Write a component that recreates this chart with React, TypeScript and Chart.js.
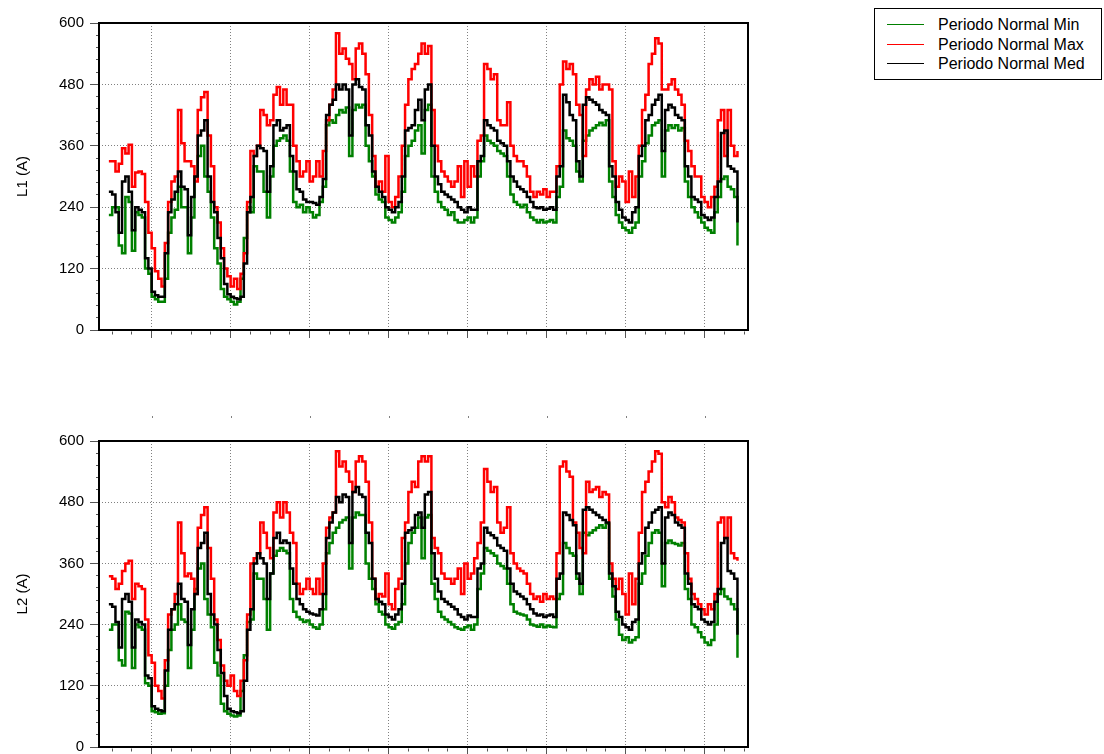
import React, { useEffect, useRef } from 'react';
import { Chart, registerables } from 'chart.js';

Chart.register(...registerables);
Chart.defaults.font.family = '"Liberation Sans", Arial, sans-serif';

// hours from the left edge of the time axis (08:00 of day 0); data starts at hour 3
const START_HOUR = 3;
const X_MIN = 0;
const X_MAX = 197.2;
const X_TICKS = [4, 10, 16, 22, 28, 34, 40, 46, 52, 58, 64, 70, 76, 82, 88, 94, 100, 106, 112, 118, 124, 130, 136, 142, 148, 154, 160, 166, 172, 178, 184, 190, 196];
const X_MAJOR = [16, 40, 64, 88, 112, 136, 160, 184];
const Y_TICKS = [0, 24, 48, 72, 96, 120, 144, 168, 192, 216, 240, 264, 288, 312, 336, 360, 384, 408, 432, 456, 480, 504, 528, 552, 576, 600];
const Y_LABELED = [0, 120, 240, 360, 480, 600];

const SERIES_NAMES = ['Periodo Normal Min', 'Periodo Normal Max', 'Periodo Normal Med'];
const SERIES_COLORS = ['#008000', '#ff0000', '#000000'];

const L1_MAX = [
  330, 330, 310, 325, 355, 345, 362, 280, 308, 310, 305, 250,
  190, 160, 115, 100, 85, 170, 250, 290, 300, 430, 365, 330,
  330, 320, 290, 430, 455, 465, 380, 320, 240, 210, 160, 120,
  105, 85, 100, 80, 110, 150, 250, 350, 340, 360, 430, 420,
  400, 410, 460, 475, 440, 470, 440, 440, 360, 330, 300, 310,
  330, 290, 300, 330, 300, 350, 410, 440, 470, 580, 540, 550,
  530, 520, 490, 550, 560, 540, 500, 420, 340, 280, 290, 270,
  340, 250, 240, 260, 300, 360, 440, 490, 510, 520, 540, 560,
  540, 555, 430, 360, 330, 310, 300, 290, 280, 290, 320, 260,
  330, 280, 320, 300, 370, 380, 520, 510, 490, 500, 410, 400,
  400, 445, 360, 340, 330, 330, 320, 300, 270, 260, 270, 265,
  275, 260, 270, 270, 320, 480, 525, 510, 520, 500, 440, 420,
  340, 470, 490, 480, 495, 470, 480, 480, 470, 330, 280, 300,
  290, 250, 310, 260, 300, 360, 430, 460, 520, 540, 570, 560,
  470, 470, 480, 490, 470, 460, 440, 370, 350, 320, 300, 300,
  260, 250, 240, 260, 280, 410, 430, 340, 430, 360, 340, 350,
];
const L1_MIN = [
  225, 240, 240, 165, 150, 260, 250, 155, 230, 225, 220, 120,
  110, 65, 60, 55, 55, 100, 190, 220, 235, 280, 240, 240,
  150, 220, 300, 340, 360, 300, 270, 220, 160, 130, 80, 65,
  60, 55, 50, 55, 100, 180, 240, 230, 320, 310, 310, 270,
  220, 300, 360, 370, 375, 380, 370, 310, 250, 240, 245, 230,
  240, 230, 220, 225, 250, 280, 400, 410, 405, 420, 430, 425,
  435, 340, 430, 440, 435, 440, 360, 330, 300, 265, 255, 250,
  220, 215, 210, 220, 230, 270, 340, 360, 370, 390, 400, 345,
  430, 440, 300, 270, 250, 240, 235, 225, 230, 215, 210, 210,
  215, 220, 210, 220, 300, 330, 380, 370, 365, 360, 350, 345,
  340, 300, 265, 250, 245, 240, 245, 230, 220, 215, 210, 215,
  210, 212, 215, 210, 260, 280, 390, 375, 370, 360, 310, 290,
  370, 380, 390, 395, 400, 405, 400, 410, 290, 260, 225, 210,
  200, 195, 190, 200, 210, 300, 330, 365, 380, 400, 405, 410,
  300, 390, 400, 395, 400, 390, 395, 290, 260, 240, 230, 220,
  210, 200, 195, 190, 230, 260, 295, 300, 280, 275, 260, 165,
];
const L1_MED = [
  270, 265, 230, 190, 290, 300, 270, 195, 240, 235, 230, 140,
  120, 75, 68, 65, 65, 150, 230, 255, 270, 310, 280, 275,
  185, 260, 300, 380, 390, 410, 300, 250, 230, 180, 140, 90,
  70, 65, 62, 60, 65, 130, 230, 260, 340, 360, 355, 350,
  270, 320, 400, 410, 390, 395, 400, 340, 310, 275, 270, 255,
  250, 250, 248, 245, 260, 295, 420, 440, 450, 480, 470, 480,
  470, 380, 480, 490, 475, 470, 400, 380, 310, 280, 270, 260,
  240, 235, 230, 240, 250, 300, 390, 395, 400, 430, 450, 410,
  470, 480, 360, 300, 285, 270, 265, 260, 255, 250, 240, 235,
  230, 240, 235, 235, 330, 340, 410, 400, 395, 390, 370, 365,
  360, 330, 300, 290, 280, 275, 270, 260, 250, 240, 238, 240,
  235, 237, 240, 235, 300, 320, 460, 445, 420, 410, 330, 300,
  440, 455, 450, 445, 440, 430, 425, 420, 320, 300, 250, 235,
  220, 215, 210, 230, 240, 340, 360, 410, 420, 440, 450, 460,
  350, 430, 440, 435, 420, 415, 410, 320, 300, 260, 255, 250,
  225, 220, 215, 220, 260, 290, 385, 390, 320, 315, 310, 210,
];

const L2_MAX = [
  335, 330, 310, 320, 345, 360, 365, 290, 320, 315, 310, 250,
  180, 165, 120, 110, 95, 170, 260, 270, 300, 440, 380, 335,
  340, 330, 300, 430, 455, 470, 390, 330, 250, 210, 160, 130,
  120, 140, 110, 100, 130, 170, 260, 360, 370, 380, 440, 420,
  390, 370, 460, 480, 450, 480, 460, 420, 400, 320, 300, 310,
  330, 310, 300, 330, 300, 360, 430, 450, 460, 580, 550, 560,
  540, 520, 500, 560, 570, 560, 520, 440, 330, 290, 300, 295,
  340, 280, 270, 310, 330, 410, 440, 500, 520, 510, 560, 570,
  560, 570, 410, 390, 380, 340, 330, 330, 320, 330, 350, 300,
  360, 330, 340, 370, 400, 440, 545, 520, 500, 510, 440, 420,
  430, 470, 380, 360, 350, 345, 340, 320, 300, 290, 295, 285,
  300, 290, 295, 290, 380, 550, 560, 540, 530, 440, 420, 390,
  380, 520, 500, 505, 510, 490, 500, 495, 360, 330, 310, 330,
  300, 260, 340, 280, 330, 420, 500, 520, 540, 560, 580, 575,
  480, 470, 490, 480, 450, 445, 440, 380, 330, 300, 290, 280,
  270, 260, 280, 270, 300, 440, 450, 410, 450, 380, 370, 365,
];
const L2_MIN = [
  230, 240, 240, 170, 160, 265, 262, 155, 240, 235, 230, 125,
  120, 70, 68, 65, 66, 120, 190, 230, 240, 280, 250, 245,
  155, 230, 310, 350, 360, 290, 260, 235, 165, 140, 85, 70,
  65, 62, 60, 62, 110, 180, 245, 250, 340, 330, 330, 290,
  230, 340, 375, 385, 390, 385, 380, 290, 265, 255, 250, 245,
  248, 240, 235, 232, 240, 270, 380, 400, 420, 430, 440, 445,
  450, 350, 450, 460, 455, 455, 360, 330, 310, 280, 265, 260,
  240, 235, 232, 240, 245, 280, 360, 400, 420, 430, 450, 370,
  450, 455, 320, 290, 265, 255, 250, 245, 240, 235, 232, 230,
  235, 238, 230, 240, 310, 340, 390, 385, 380, 375, 360, 355,
  350, 320, 280, 265, 262, 260, 258, 250, 240, 238, 236, 240,
  235, 238, 236, 235, 290, 300, 400, 390, 380, 375, 330, 300,
  420, 415, 420, 425, 430, 435, 430, 438, 330, 295, 250, 220,
  210, 215, 205, 210, 215, 320, 340, 375, 400, 420, 425, 420,
  315, 400, 405, 400, 398, 395, 400, 310, 290, 240, 235, 225,
  215, 205, 200, 210, 240, 300, 310, 295, 290, 280, 270, 175,
];
const L2_MED = [
  280, 275, 245, 195, 290, 300, 285, 195, 250, 245, 240, 140,
  135, 80, 75, 72, 70, 150, 230, 270, 280, 320, 290, 285,
  200, 270, 300, 390, 400, 420, 300, 260, 240, 190, 145, 100,
  75, 70, 68, 66, 70, 130, 230, 270, 360, 380, 370, 360,
  290, 340, 410, 420, 400, 405, 400, 350, 320, 290, 280, 270,
  265, 262, 260, 258, 270, 300, 410, 440, 460, 490, 480, 495,
  490, 400, 500, 510, 495, 490, 420, 400, 330, 290, 285, 280,
  260, 255, 250, 260, 270, 320, 420, 425, 430, 455, 460, 430,
  495, 500, 380, 330, 305, 290, 285, 280, 275, 270, 260, 255,
  250, 258, 255, 255, 350, 360, 430, 420, 415, 410, 395, 390,
  385, 350, 320, 305, 300, 295, 290, 280, 270, 262, 258, 260,
  255, 258, 260, 255, 330, 340, 460, 455, 445, 435, 340, 320,
  465, 470, 465, 460, 455, 450, 445, 440, 340, 315, 265, 255,
  240, 235, 230, 245, 250, 360, 380, 430, 440, 460, 465, 470,
  360, 450, 460, 455, 440, 435, 430, 340, 320, 280, 275, 270,
  250, 245, 240, 245, 285, 310, 400, 410, 345, 340, 330, 220,
];

const toPoints = (arr: number[]) => arr.map((v, i) => ({ x: START_HOUR + i, y: v }));

const framePlugin = {
  id: 'frame',
  afterDraw(chart: any) {
    const { ctx, chartArea } = chart;
    ctx.save();
    ctx.strokeStyle = '#000';
    ctx.lineWidth = 2;
    ctx.strokeRect(chartArea.left, chartArea.top, chartArea.right - chartArea.left, chartArea.bottom - chartArea.top);
    ctx.restore();
  },
};

const dotsPlugin = {
  id: 'dots',
  afterDraw(chart: any, _args: any, opts: any) {
    if (!opts || !opts.show) return;
    const { ctx, chartArea } = chart;
    const xs = chart.scales.x;
    ctx.save();
    ctx.fillStyle = '#808080';
    X_MAJOR.forEach((v) => {
      const px = Math.round(xs.getPixelForValue(v));
      ctx.fillRect(px, chartArea.top - 25, 1, 2);
    });
    ctx.restore();
  },
};

function makeConfig(title: string, mn: number[], mx: number[], md: number[], padTop: number, padBottom: number, xHeight: number, showDots: boolean): any {
  const isMajorX = (ctx: any) => X_MAJOR.includes(ctx.tick ? ctx.tick.value : NaN);
  const isMajorY = (ctx: any) => Y_LABELED.includes(ctx.tick ? ctx.tick.value : NaN);
  const ds = (data: number[], idx: number, order: number) => ({
    label: SERIES_NAMES[idx],
    data: toPoints(data),
    borderColor: SERIES_COLORS[idx],
    backgroundColor: SERIES_COLORS[idx],
    borderWidth: 2.5,
    pointRadius: 0,
    stepped: true,
    tension: 0,
    fill: false,
    order,
  });
  return {
    type: 'line',
    data: { datasets: [ds(mn, 0, 2), ds(mx, 1, 1), ds(md, 2, 0)] },
    plugins: [framePlugin, dotsPlugin],
    options: {
      animation: false,
      responsive: false,
      events: [],
      layout: { padding: { left: 0, right: 12, top: padTop, bottom: padBottom } },
      plugins: { legend: { display: false }, tooltip: { enabled: false }, dots: { show: showDots } },
      scales: {
        x: {
          type: 'linear',
          min: X_MIN,
          max: X_MAX,
          afterBuildTicks: (s: any) => { s.ticks = X_TICKS.map((v) => ({ value: v })); },
          afterFit: (s: any) => { s.height = xHeight; },
          ticks: { display: false },
          border: { display: false, dash: [1, 2] },
          grid: {
            color: (c: any) => (isMajorX(c) ? '#808080' : 'rgba(0,0,0,0)'),
            lineWidth: 1,
            tickLength: 8,
            tickWidth: 1,
            tickColor: '#555',
            tickBorderDash: (c: any) => (isMajorX(c) ? [] : [0, 1.5, 3, 100]),
          },
        },
        y: {
          min: 0,
          max: 600,
          afterBuildTicks: (s: any) => { s.ticks = Y_TICKS.map((v) => ({ value: v })); },
          afterFit: (s: any) => { s.width = 99; },
          ticks: {
            autoSkip: false,
            padding: 6,
            color: '#000',
            font: { size: 15 },
            callback: (v: any) => (Y_LABELED.includes(Number(v)) ? String(v) : ''),
          },
          border: { display: false, dash: [1, 2] },
          grid: {
            color: (c: any) => (isMajorY(c) ? '#808080' : 'rgba(0,0,0,0)'),
            lineWidth: 1,
            tickLength: 9,
            tickWidth: 1,
            tickColor: '#555',
            tickBorderDash: (c: any) => (isMajorY(c) ? [] : [0, 6, 3, 100]),
          },
          title: { display: true, text: title, color: '#000', font: { size: 15 }, padding: { top: 14, bottom: 0 } },
        },
      },
    },
  };
}

function ChartCanvas({ config, width, height, top }: { config: any; width: number; height: number; top: number }) {
  const ref = useRef<HTMLCanvasElement | null>(null);
  useEffect(() => {
    if (!ref.current) return;
    const chart = new Chart(ref.current, config);
    return () => chart.destroy();
  }, []);
  return (
    <canvas
      ref={ref}
      width={width}
      height={height}
      style={{ position: 'absolute', left: 0, top, width, height }}
    />
  );
}

export default function App() {
  const legendRows = SERIES_NAMES.map((name, i) => (
    <div key={name} style={{ position: 'absolute', left: 0, top: 6 + i * 19.6, height: 20, width: 226 }}>
      <div style={{ position: 'absolute', left: 12, top: 9, width: 37, height: 1, background: SERIES_COLORS[i] }} />
      <div style={{ position: 'absolute', left: 63, top: 0, fontSize: 16, lineHeight: '20px', whiteSpace: 'nowrap', color: '#000' }}>{name}</div>
    </div>
  ));
  return (
    <div style={{ position: 'absolute', left: 0, top: 0, width: 1104, height: 754, background: '#fff', fontFamily: '"Liberation Sans", Arial, sans-serif', overflow: 'hidden' }}>
      <ChartCanvas config={makeConfig('L1 (A)', L1_MIN, L1_MAX, L1_MED, 23, 5, 10, false)} width={760} height={345} top={0} />
      <ChartCanvas config={makeConfig('L2 (A)', L2_MIN, L2_MAX, L2_MED, 61, 0, 16, true)} width={760} height={383} top={380} />
      <div style={{ position: 'absolute', left: 874, top: 8, width: 226, height: 70, border: '1px solid #000', background: '#fff' }}>
        {legendRows}
      </div>
    </div>
  );
}
